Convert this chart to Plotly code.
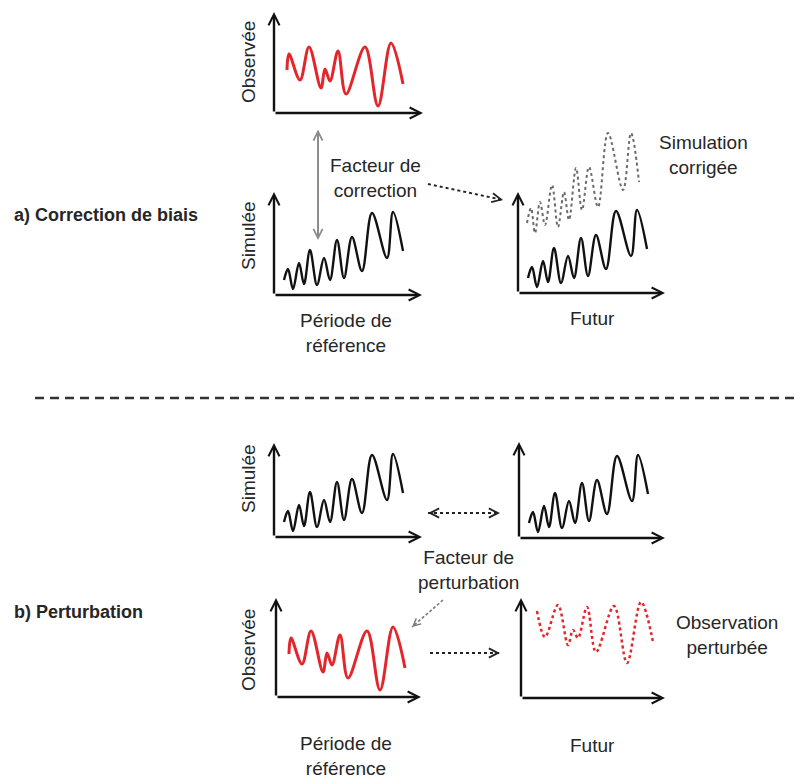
import plotly.graph_objects as go

# page body has an 8px default margin: the figure is sized so it ends at the window edge
OFF = 8
W, H = 807 - OFF, 783 - OFF

# ---------------- data (relative to each panel's axis origin) -------------
sim_x = [10, 14, 19, 25, 30, 36, 43, 50, 56, 63, 70, 78, 88, 98, 113, 119, 129]
sim_y = [15, 26, 6, 32, 11, 45, 10, 37, 15, 55, 17, 58, 24, 82, 37, 83, 44]

obs_x = [13, 15, 26, 35, 47, 51, 56, 64, 72, 91, 104, 117, 129]
obs_y = [43, 59, 33, 66, 25, 44, 32, 62, 19, 66, 7, 70, 29]

corr_x = [9, 13, 17, 22, 27, 34, 40, 46, 51, 58, 64, 71, 80, 90, 105, 113, 121]
corr_y = [70, 85, 60, 91, 68, 108, 66, 101, 73, 125, 83, 126, 86, 160, 103, 160, 111]

pert_x = [16, 24, 37, 47, 52, 57, 66, 75, 93, 106, 120, 132]
pert_y = [87, 61, 93, 53, 68, 60, 91, 46, 92, 35, 96, 56]

# ---------------- layout constants -------------
FONT = "Liberation Sans Narrow, Arial Narrow, Liberation Sans, Arial, sans-serif"
TXT = "#262626"
RED = "#e3262b"
BLK = "#111111"

# panel: origin (window px), axis tip lengths, plot height
panels = [
    dict(ox=274, oy=113, xt=149, yt=101, hy=104),   # 1 a) observed
    dict(ox=274, oy=295, xt=148, yt=103, hy=110),   # 2 a) simulated ref
    dict(ox=518, oy=293, xt=147, yt=101, hy=175),   # 3 a) future
    dict(ox=274, oy=537, xt=148, yt=94, hy=110),    # 4 b) simulated ref
    dict(ox=519, oy=538, xt=146, yt=96, hy=110),    # 5 b) simulated future
    dict(ox=276, oy=697, xt=145, yt=99, hy=110),    # 6 b) observed
    dict(ox=521, oy=698, xt=144, yt=100, hy=110),   # 7 b) perturbed
]


def px(x):
    return (x - OFF) / W


def py(y):
    return 1 - (y - OFF) / H


fig = go.Figure()
layout = dict(width=W, height=H, margin=dict(l=0, r=0, t=0, b=0),
              paper_bgcolor="white", plot_bgcolor="rgba(0,0,0,0)", showlegend=False)
annotations = []
shapes = []

HX = 160
for i, p in enumerate(panels, start=1):
    sx = "" if i == 1 else str(i)
    hy = min(p["hy"], p["oy"] - OFF)
    layout["xaxis" + sx] = dict(domain=[px(p["ox"]), px(p["ox"] + HX)], range=[0, HX],
                                visible=False, anchor="y" + sx, fixedrange=True)
    layout["yaxis" + sx] = dict(domain=[py(p["oy"]), py(p["oy"] - hy)],
                                range=[0, hy], visible=False, anchor="x" + sx, fixedrange=True)
    for (tx, ty) in [(p["xt"], 0), (0, p["yt"])]:
        annotations.append(dict(xref="x" + sx, yref="y" + sx, axref="x" + sx, ayref="y" + sx,
                                x=tx, y=ty, ax=0, ay=0, text="", showarrow=True,
                                arrowhead=5, arrowsize=0.9, arrowwidth=2.4, arrowcolor=BLK))


def curve(i, xs, ys, color, width, dash="solid"):
    sx = "" if i == 1 else str(i)
    fig.add_trace(go.Scatter(x=xs, y=ys, mode="lines", xaxis="x" + sx, yaxis="y" + sx,
                             line=dict(color=color, width=width, shape="spline", smoothing=1, dash=dash),
                             hoverinfo="skip"))


curve(1, obs_x, obs_y, RED, 3)
curve(2, sim_x, sim_y, BLK, 2.4)
curve(3, corr_x, corr_y, "#6a6a6a", 2, "dot")
curve(3, sim_x, sim_y, BLK, 2.4)
curve(4, sim_x, sim_y, BLK, 2.4)
curve(5, sim_x, sim_y, BLK, 2.4)
curve(6, obs_x, obs_y, RED, 3)
curve(7, pert_x, pert_y, RED, 2.5, "dot")


def text(x, y, s, size=19, angle=0, xanchor="center"):
    annotations.append(dict(xref="paper", yref="paper", x=px(x), y=py(y), text=s,
                            showarrow=False, textangle=angle, xanchor=xanchor, yanchor="middle",
                            font=dict(family=FONT, size=size, color=TXT)))


# rotated axis labels
text(248, 62, "Observée", angle=-90)
text(248, 236, "Simulée", angle=-90)
text(248, 479, "Simulée", angle=-90)
text(248, 650, "Observée", angle=-90)

# section labels
text(12, 215, "<b>a) Correction de biais</b>", size=18, xanchor="left")
text(12, 612, "<b>b) Perturbation</b>", size=18, xanchor="left")

text(375, 178, "Facteur de<br>correction")
text(703, 155, "Simulation<br>corrigée")
text(346, 333, "Période de<br>référence")
text(592, 318, "Futur")
text(468, 570, "Facteur de<br>perturbation")
text(727, 635, "Observation<br>perturbée")
text(346, 756, "Période de<br>référence")
text(592, 745, "Futur")

# divider
shapes.append(dict(type="line", xref="paper", yref="paper", x0=px(35), x1=1.0, y0=py(398), y1=py(398),
                   line=dict(color="#333333", width=2.5, dash="9px,6px")))


def arrow_head(x, y, ax, ay, color, width=2):
    annotations.append(dict(xref="paper", yref="paper", x=px(x), y=py(y), ax=ax, ay=ay, text="",
                            showarrow=True, arrowhead=5, arrowsize=0.9, arrowwidth=width, arrowcolor=color))


def dotted_arrow(x0, y0, x1, y1, color, dash="dot", width=2, both=False):
    shapes.append(dict(type="line", xref="paper", yref="paper", x0=px(x0), y0=py(y0), x1=px(x1), y1=py(y1),
                       line=dict(color=color, width=width, dash=dash)))
    dx, dy = x0 - x1, y0 - y1
    n = (dx * dx + dy * dy) ** 0.5
    arrow_head(x1, y1, dx / n * 6, dy / n * 6, color, width)
    if both:
        arrow_head(x0, y0, -dx / n * 6, -dy / n * 6, color, width)


# gray vertical double arrow (solid)
annotations.append(dict(xref="paper", yref="paper", x=px(318), y=py(240), ax=0, ay=128 - 240,
                        text="", showarrow=True, arrowside="end+start",
                        arrowhead=5, startarrowhead=5, arrowsize=0.9, startarrowsize=0.9,
                        arrowwidth=2, arrowcolor="#8c8c8c"))

dotted_arrow(428, 184, 503, 200, "#222222")
dotted_arrow(428, 513, 500, 513, "#222222", both=True)
dotted_arrow(443, 600, 412, 627, "#7a7a7a", dash="3px,2px", width=1.6)
dotted_arrow(430, 653, 500, 653, "#222222")

layout["annotations"] = annotations
layout["shapes"] = shapes
fig.update_layout(**layout)
fig.write_html("out.html")
